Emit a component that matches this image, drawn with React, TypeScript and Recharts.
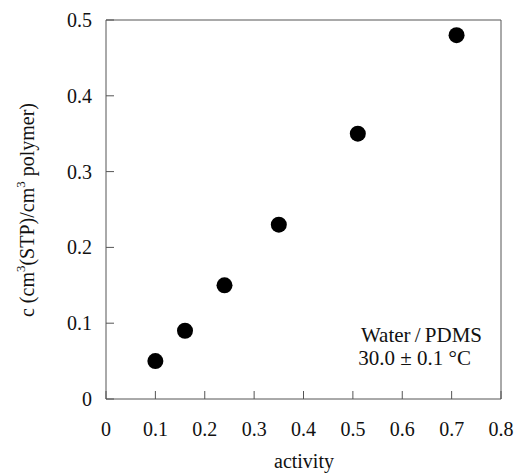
import { ScatterChart, Scatter, XAxis, YAxis } from 'recharts'

const activity = [0.1, 0.16, 0.24, 0.35, 0.51, 0.71]
const concentration = [0.05, 0.09, 0.15, 0.23, 0.35, 0.48]
const xTicks = [0, 0.1, 0.2, 0.3, 0.4, 0.5, 0.6, 0.7, 0.8]
const yTicks = [0, 0.1, 0.2, 0.3, 0.4, 0.5]
const annotation = ['Water\u2009/\u2009PDMS', '30.0 \u00b1 0.1 \u00b0C']

const FONT = 'Liberation Serif'
const AXIS = '#555'
const TEXT = '#111'

const fmt = (v: number) => (v === 0 ? '0' : v.toFixed(1))
const blank = () => ''

const data = activity.map((a, i) => ({ a, c: concentration[i] }))

const Dot = (props: any) => <circle cx={props.cx} cy={props.cy} r={8} fill="#000" />

const XTick = (props: any) => (
  <text x={props.x} y={props.y + 19} textAnchor="middle" fontFamily={FONT} fontSize={20} fill={TEXT}>
    {fmt(props.payload.value)}
  </text>
)

const YTick = (props: any) => (
  <text x={props.x} y={props.y + 7} textAnchor="end" fontFamily={FONT} fontSize={20} fill={TEXT}>
    {fmt(props.payload.value)}
  </text>
)

export default function App() {
  return (
    <div style={{ position: 'absolute', left: 0, top: 0, width: 519, height: 475, background: '#fff' }}>
      <ScatterChart width={519} height={475} margin={{ top: 19, right: 17, bottom: 16, left: 46 }}>
        <XAxis
          type="number"
          dataKey="a"
          domain={[0, 0.8]}
          ticks={xTicks}
          height={60}
          tickSize={-8}
          tickMargin={26}
          axisLine={{ stroke: AXIS }}
          tickLine={{ stroke: AXIS }}
          tick={XTick}
        />
        <XAxis
          xAxisId="top"
          orientation="top"
          type="number"
          dataKey="a"
          domain={[0, 0.8]}
          ticks={xTicks}
          tickFormatter={blank}
          height={1}
          tickSize={-8}
          axisLine={{ stroke: AXIS }}
          tickLine={{ stroke: AXIS }}
        />
        <YAxis
          type="number"
          dataKey="c"
          domain={[0, 0.5]}
          ticks={yTicks}
          width={60}
          tickSize={-8}
          tickMargin={22}
          axisLine={{ stroke: AXIS }}
          tickLine={{ stroke: AXIS }}
          tick={YTick}
        />
        <YAxis
          yAxisId="right"
          orientation="right"
          type="number"
          dataKey="c"
          domain={[0, 0.5]}
          ticks={yTicks}
          tickFormatter={blank}
          width={1}
          tickSize={-8}
          axisLine={{ stroke: AXIS }}
          tickLine={{ stroke: AXIS }}
        />
        <Scatter data={data} shape={Dot} isAnimationActive={false} />
      </ScatterChart>
      <svg width={519} height={475} style={{ position: 'absolute', left: 0, top: 0, pointerEvents: 'none' }}>
        <text x={304} y={468} textAnchor="middle" fontFamily={FONT} fontSize={20} fill={TEXT}>
          activity
        </text>
        <text
          transform="translate(34,210) rotate(-90)"
          textAnchor="middle"
          fontFamily={FONT}
          fontSize={20}
          fill={TEXT}
        >
          c  (cm<tspan dy={-9} fontSize={13}>3</tspan>
          <tspan dy={9}>(STP)/cm</tspan>
          <tspan dy={-9} fontSize={13}>3</tspan>
          <tspan dy={9}> polymer)</tspan>
        </text>
        <text x={482} y={342} textAnchor="end" fontFamily={FONT} fontSize={21} fill={TEXT}>
          {annotation[0]}
        </text>
        <text x={471} y={365} textAnchor="end" fontFamily={FONT} fontSize={21} fill={TEXT}>
          {annotation[1]}
        </text>
      </svg>
    </div>
  )
}
